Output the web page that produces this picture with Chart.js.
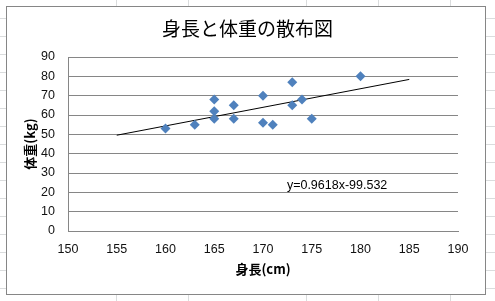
<!DOCTYPE html>
<html><head><meta charset="utf-8">
<script src="https://cdn.jsdelivr.net/npm/chart.js@4"></script>
<style>html,body{margin:0;padding:0;background:#fff}canvas{display:block}</style>
</head><body>
<canvas id="c" width="495" height="301"></canvas>
<script>
const heights = [160, 163, 165, 165, 165, 167, 167, 170, 170, 171, 173, 173, 174, 175, 180];
const weights = [53, 55, 68, 62, 58, 65, 58, 70, 56, 55, 77, 65, 68, 58, 80];
const trendX = [155, 185];
const trendY = [49.55, 78.4];
const xTicks = [150, 155, 160, 165, 170, 175, 180, 185, 190];
const yTicks = [0, 10, 20, 30, 40, 50, 60, 70, 80, 90];
const titleText = '身長と体重の散布図';
const xTitle = '身長(cm)';
const yTitle = '体重(kg)';
const equationText = 'y=0.9618x-99.532';
const equationAt = [172.45, 23.3];

const cjk = '"Noto Sans CJK JP", "Noto Sans", sans-serif';
const latin = '"Liberation Sans", Arial, sans-serif';

const bgPlugin = {
  id: 'sheetBg',
  beforeDraw(chart) {
    const ctx = chart.ctx;
    ctx.save();
    ctx.fillStyle = '#fff';
    ctx.fillRect(0, 0, chart.width, chart.height);
    ctx.strokeStyle = '#dadcdd';
    ctx.lineWidth = 1;
    ctx.beginPath();
    for (let y = 18; y < chart.height; y += 18) { ctx.moveTo(0, y + 0.5); ctx.lineTo(chart.width, y + 0.5); }
    [116, 188, 306, 378, 450].forEach(x => { ctx.moveTo(x + 0.5, 0); ctx.lineTo(x + 0.5, chart.height); });
    ctx.stroke();
    ctx.fillStyle = '#fff';
    ctx.fillRect(6, 6, 480, 289);
    ctx.strokeStyle = '#868686';
    ctx.strokeRect(6.5, 6.5, 479, 288);
    ctx.fillStyle = '#000';
    ctx.font = 'normal 19px ' + cjk;
    ctx.textAlign = 'center';
    ctx.textBaseline = 'middle';
    ctx.fillText(titleText, 247.5, 29);
    ctx.restore();
  }
};

const eqPlugin = {
  id: 'equation',
  afterDatasetsDraw(chart) {
    const ctx = chart.ctx, xs = chart.scales.x, ys = chart.scales.y;
    ctx.save();
    ctx.font = '12.5px ' + latin;
    ctx.fillStyle = '#000';
    ctx.textAlign = 'left';
    ctx.textBaseline = 'middle';
    ctx.fillText(equationText, xs.getPixelForValue(equationAt[0]), ys.getPixelForValue(equationAt[1]));
    ctx.restore();
  }
};

const tickFont = { family: latin, size: 12.5 };

new Chart(document.getElementById('c'), {
  type: 'scatter',
  data: {
    datasets: [
      {
        data: heights.map((h, i) => ({ x: h, y: weights[i] })),
        pointStyle: 'rectRot',
        pointRadius: 5,
        pointBorderWidth: 0,
        backgroundColor: '#4F81BD',
        borderColor: '#4F81BD',
        order: 1
      },
      {
        type: 'line',
        data: trendX.map((x, i) => ({ x: x, y: trendY[i] })),
        borderColor: '#000',
        borderWidth: 1,
        pointRadius: 0,
        fill: false,
        order: 2
      }
    ]
  },
  options: {
    responsive: false,
    animation: false,
    devicePixelRatio: 1,
    layout: { padding: { left: 0, right: 37, top: 57, bottom: 0 } },
    plugins: {
      legend: { display: false },
      tooltip: { enabled: false },
      title: { display: false }
    },
    scales: {
      x: {
        type: 'linear', min: 150, max: 190,
        afterBuildTicks: s => { s.ticks = xTicks.map(v => ({ value: v })); },
        afterFit: s => { s.height = 70; },
        grid: { display: false, drawTicks: false },
        border: { display: true, color: '#868686' },
        ticks: { padding: 11, font: tickFont, color: '#111', maxRotation: 0 },
        title: { display: true, text: xTitle, color: '#000', font: { family: cjk, size: 13, weight: 'bold' }, padding: { top: 0, bottom: 24 } }
      },
      y: {
        type: 'linear', min: 0, max: 90,
        afterBuildTicks: s => { s.ticks = yTicks.map(v => ({ value: v })); },
        afterFit: s => { s.width = 68; },
        grid: { color: '#868686', drawTicks: false },
        border: { display: true, color: '#868686' },
        ticks: { padding: 13, font: tickFont, color: '#111' },
        title: { display: true, text: yTitle, color: '#000', font: { family: cjk, size: 13, weight: 'bold' }, padding: { top: 22, bottom: 0 } }
      }
    }
  },
  plugins: [bgPlugin, eqPlugin]
});
</script>
</body></html>
